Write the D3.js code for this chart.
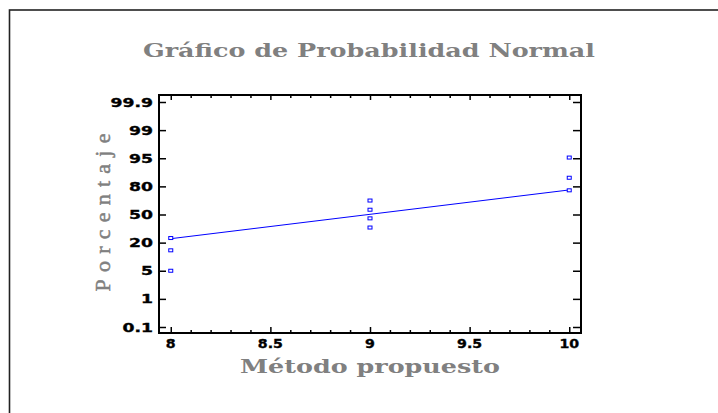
<!DOCTYPE html>
<html>
<head>
<meta charset="utf-8">
<script src="https://cdn.jsdelivr.net/npm/d3@7"></script>
<style>
  html, body { margin: 0; padding: 0; background: #fff; }
  svg { display: block; }
</style>
</head>
<body>
<svg id="chart" width="718" height="413"></svg>
<script>
// ---- data ----
const methodValues  = [8, 8, 8, 9, 9, 9, 9, 10, 10, 10];
const percentValues = [5.0, 15.9, 24.9, 36.1, 45.9, 55.1, 64.9, 75.8, 84.6, 95.1];
const fitLineX = [8, 10];
const fitLineY = [24.2, 76.2];
const yTickValues = [0.1, 1, 5, 20, 50, 80, 95, 99, 99.9];
const yTickLabels = ["0.1", "1", "5", "20", "50", "80", "95", "99", "99.9"];
const xTickValues = [8, 8.5, 9, 9.5, 10];
const xTickLabels = ["8", "8.5", "9", "9.5", "10"];
const titleText = "Gráfico de Probabilidad Normal";
const xTitleText = "Método propuesto";
const yTitleText = "Porcentaje";

// ---- layout ----
const svg = d3.select("#chart");
const plot = { left: 159, right: 581, top: 95, bottom: 333 };
const grey = "#808080";
const blue = "#0000ff";

// outer frame (right/bottom edges run off the picture)
svg.append("rect")
  .attr("x", 9.5).attr("y", 10).attr("width", 730).attr("height", 430)
  .attr("fill", "none").attr("stroke", "#222").attr("stroke-width", 1.6);

// scales
const x = d3.scaleLinear().domain([7.941, 10.059]).range([plot.left, plot.right]);
const yFirst = 327, yLast = 102;
const yStep = (yFirst - yLast) / (yTickValues.length - 1);
const y = d3.scaleLinear()
  .domain(yTickValues)
  .range(yTickValues.map((d, i) => yFirst - i * yStep));

// title
svg.append("text")
  .attr("x", 369).attr("y", 56.5)
  .attr("text-anchor", "middle")
  .attr("font-family", "DejaVu Serif")
  .attr("font-weight", "bold")
  .attr("font-size", 18)
  .attr("fill", grey)
  .attr("textLength", 452).attr("lengthAdjust", "spacingAndGlyphs")
  .text(titleText);

// axes via d3 axis generators
const minorX = d3.range(80, 101).map(d => d / 10).filter(d => !xTickValues.includes(d));

function styleAxis(g) {
  g.select(".domain").remove();
  g.selectAll(".tick line").attr("stroke", "#000").attr("stroke-width", 1.5);
}

svg.append("g").attr("transform", `translate(0,${plot.bottom})`)
  .call(d3.axisBottom(x).tickValues(xTickValues).tickSize(-6).tickFormat(""))
  .call(styleAxis);
svg.append("g").attr("transform", `translate(0,${plot.bottom})`)
  .call(d3.axisBottom(x).tickValues(minorX).tickSize(-3).tickFormat(""))
  .call(styleAxis);
svg.append("g").attr("transform", `translate(0,${plot.top})`)
  .call(d3.axisTop(x).tickValues(xTickValues).tickSize(-5).tickFormat(""))
  .call(styleAxis);
svg.append("g").attr("transform", `translate(0,${plot.top})`)
  .call(d3.axisTop(x).tickValues(minorX).tickSize(-3).tickFormat(""))
  .call(styleAxis);
svg.append("g").attr("transform", `translate(${plot.left},0)`)
  .call(d3.axisLeft(y).tickValues(yTickValues).tickSize(-7).tickFormat(""))
  .call(styleAxis);
svg.append("g").attr("transform", `translate(${plot.right},0)`)
  .call(d3.axisRight(y).tickValues(yTickValues).tickSize(-8).tickFormat(""))
  .call(styleAxis);

// frame
svg.append("rect")
  .attr("x", plot.left).attr("y", plot.top)
  .attr("width", plot.right - plot.left).attr("height", plot.bottom - plot.top)
  .attr("fill", "none").attr("stroke", "#000").attr("stroke-width", 2);

// y tick labels
const yl = svg.append("g");
yTickValues.forEach((v, i) => {
  const ty = y(v);
  yl.append("text")
    .attr("transform", `translate(153,${ty + 4.5}) scale(1.4,1)`)
    .attr("text-anchor", "end")
    .attr("font-family", "DejaVu Sans")
    .attr("font-weight", "bold")
    .attr("font-size", 12.3)
    .attr("fill", "#000")
    .attr("stroke", "#000").attr("stroke-width", 0.35)
    .text(yTickLabels[i]);
});

// x tick labels
const xl = svg.append("g");
xTickValues.forEach((v, i) => {
  xl.append("text")
    .attr("transform", `translate(${x(v)},347.5) scale(1.2,1)`)
    .attr("text-anchor", "middle")
    .attr("font-family", "DejaVu Sans")
    .attr("font-weight", "bold")
    .attr("font-size", 11.8)
    .attr("fill", "#000")
    .attr("stroke", "#000").attr("stroke-width", 0.35)
    .text(xTickLabels[i]);
});

// x title
svg.append("text")
  .attr("x", 370).attr("y", 373)
  .attr("text-anchor", "middle")
  .attr("font-family", "DejaVu Serif")
  .attr("font-weight", "bold")
  .attr("font-size", 18)
  .attr("fill", grey)
  .attr("textLength", 260).attr("lengthAdjust", "spacingAndGlyphs")
  .text(xTitleText);

// y title
svg.append("text")
  .attr("transform", "translate(109.5,212.5) rotate(-90)")
  .attr("text-anchor", "middle")
  .attr("font-family", "Liberation Serif")
  .attr("font-size", 22)
  .attr("fill", grey)
  .attr("stroke", grey).attr("stroke-width", 0.5)
  .attr("textLength", 158).attr("lengthAdjust", "spacing")
  .text(yTitleText);

// fitted line
const line = d3.line().x(d => x(d[0])).y(d => y(d[1]));
svg.append("path")
  .datum(fitLineX.map((d, i) => [d, fitLineY[i]]))
  .attr("d", line)
  .attr("fill", "none").attr("stroke", blue).attr("stroke-width", 1);

// points
svg.append("g").selectAll("rect")
  .data(methodValues.map((d, i) => [d, percentValues[i]]))
  .join("rect")
  .attr("x", d => x(d[0]) - 2)
  .attr("y", d => y(d[1]) - 1.5)
  .attr("width", 4).attr("height", 3)
  .attr("fill", "#fff").attr("stroke", blue).attr("stroke-width", 1);
</script>
</body>
</html>
